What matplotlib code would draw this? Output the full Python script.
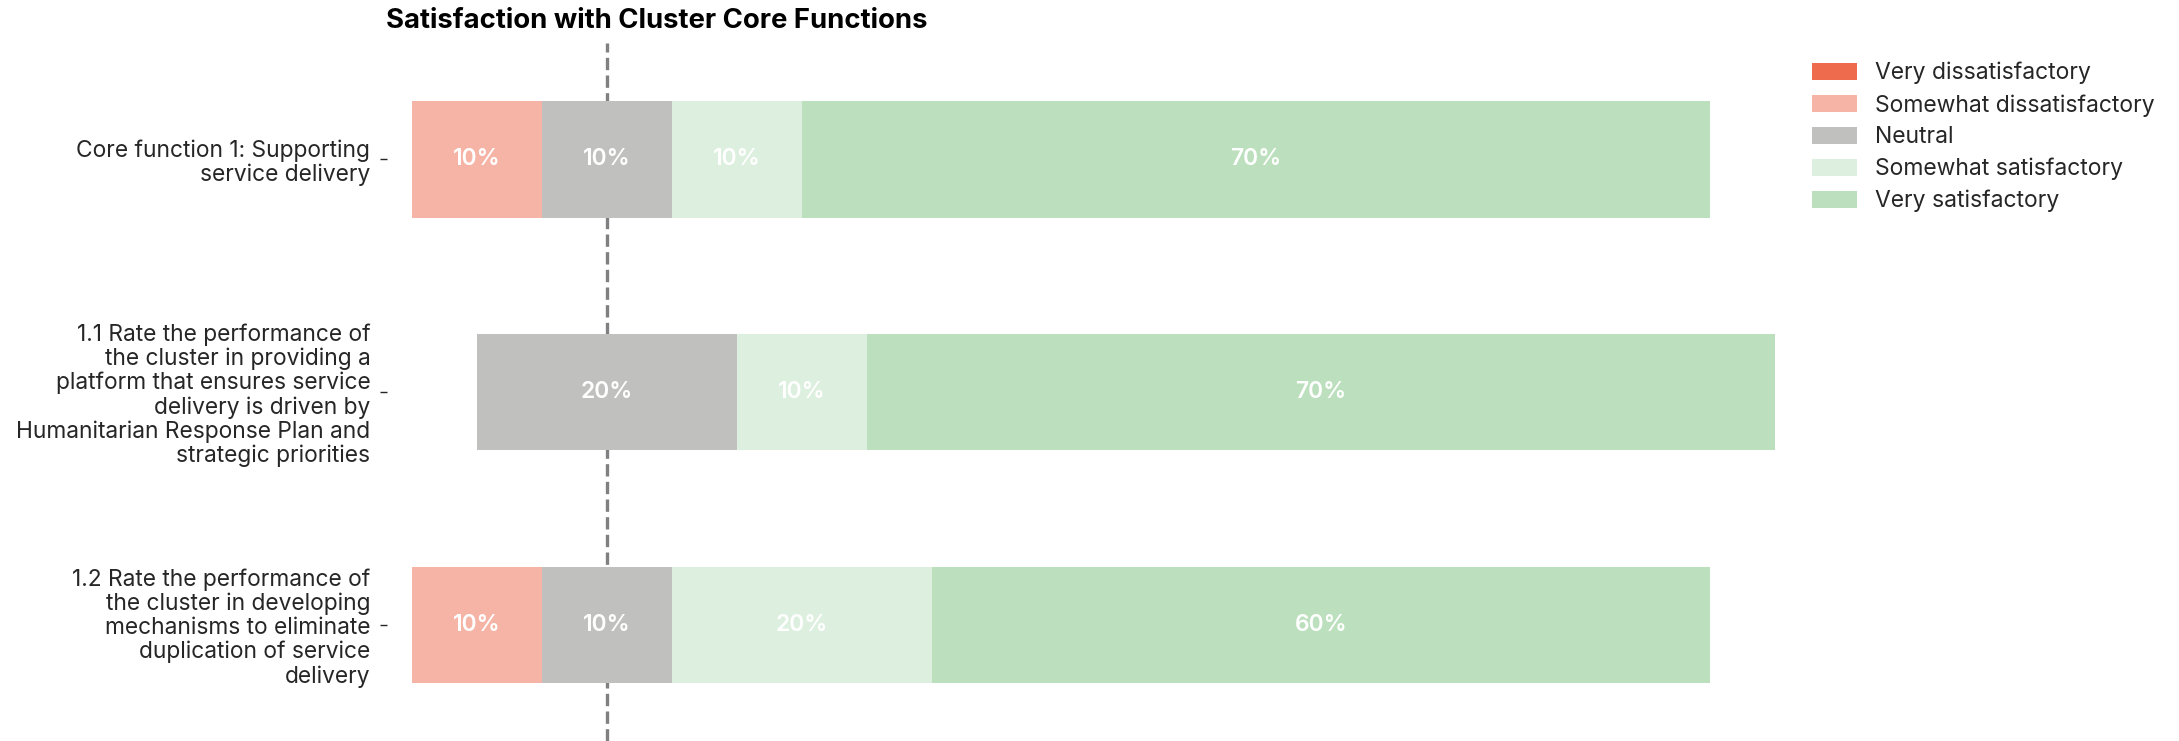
import numpy as np
import matplotlib
matplotlib.use("Agg")
import matplotlib.pyplot as plt

plt.rcParams['font.family'] = ['Inter', 'DejaVu Sans']

# datos
categorias = [
    "Core function 1: Supporting\nservice delivery",
    "1.1 Rate the performance of\nthe cluster in providing a\nplatform that ensures service\ndelivery is driven by\nHumanitarian Response Plan and\nstrategic priorities",
    "1.2 Rate the performance of\nthe cluster in developing\nmechanisms to eliminate\nduplication of service\ndelivery",
]
niveles = ["Very dissatisfactory", "Somewhat dissatisfactory", "Neutral",
           "Somewhat satisfactory", "Very satisfactory"]
very_dis = [0, 0, 0]
some_dis = [10, 0, 10]
neutral = [10, 20, 10]
some_sat = [10, 10, 20]
very_sat = [70, 70, 60]
colores = ["#ef6b4e", "#f6b4a7", "#c0c0bf", "#ddefde", "#bce0bd"]

series = np.array([very_dis, some_dis, neutral, some_sat, very_sat], dtype=float)
y = np.arange(len(categorias))

fig = plt.figure(figsize=(21.79, 7.41), dpi=100)
ax = fig.add_axes([387 / 2179, 0, (1790 - 387) / 2179, 698 / 741])

# centrar en la mitad de la categoria neutral
inicio = -(series[0] + series[1] + series[2] / 2)
for i, nombre in enumerate(niveles):
    ancho = series[i]
    ax.barh(y, ancho, left=inicio, height=0.5, color=colores[i], label=nombre, zorder=2)
    for j, v in enumerate(ancho):
        if v > 0:
            ax.text(inicio[j] + v / 2, y[j], f"{v:.0f}%", ha='center', va='center',
                    color='white', fontsize=16.5, fontweight='semibold', zorder=3)
    inicio = inicio + ancho

ax.axvline(0, color='#808080', linestyle='--', linewidth=2.4, zorder=1)

ax.set_xlim(-16.95, 91.14)
ax.set_ylim(2.5, -0.5)
ax.set_yticks(y)
ax.set_yticklabels(categorias, fontsize=16.4, color='#262626', linespacing=1.1)
ax.tick_params(axis='y', length=5, width=1, pad=7, color='#262626')
ax.set_xticks([])
for s in ax.spines.values():
    s.set_visible(False)

fig.text(386 / 2179, 1 - 21 / 741, "Satisfaction with Cluster Core Functions",
         fontsize=19.8, fontweight='bold', ha='left', va='center', color='black')

fig.legend(loc='upper left', bbox_to_anchor=(1812 / 2179, 1 - 62 / 741),
           frameon=False, fontsize=16.5, handlelength=1.97, handleheight=0.74,
           handletextpad=0.8, labelspacing=0.42, borderpad=0, borderaxespad=0,
           labelcolor='#262626')

plt.savefig("out.png", dpi=100)
